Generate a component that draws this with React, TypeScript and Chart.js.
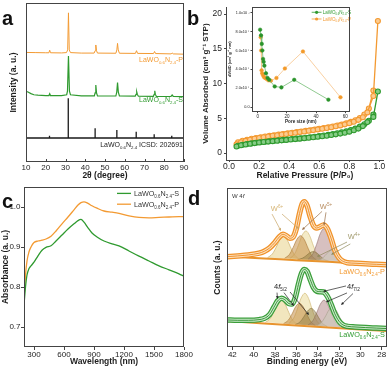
import React, { useEffect, useRef } from 'react';
import { Chart, registerables } from 'chart.js';

Chart.register(...registerables);

const FONT = '"Liberation Sans", Arial, Helvetica, sans-serif';
const ORANGE = '#f39a32';
const GREEN = '#2f9a2f';
const AXIS = '#444444';
const TEXT = '#1e1e1e';

// ---------------- Panel a : XRD ----------------
const xrdP: number[][] = [
  [10, 68.9], [15, 68.8], [20, 68.7], [21.6, 68.7], [22.0, 70.3], [22.4, 68.7], [28, 68.6], [30.5, 68.8],
  [31.1, 70.5], [31.5, 93.8], [31.9, 70.5], [32.5, 68.8], [38, 68.5], [44.5, 68.5], [45.0, 70.0], [45.35, 73.6],
  [45.7, 70.0], [46.2, 68.5], [55.5, 68.4], [56.0, 70.5], [56.35, 74.6], [56.7, 70.5], [57.3, 68.4], [65.4, 68.3],
  [65.95, 70.0], [66.5, 68.3], [74.6, 68.2], [75.1, 69.5], [75.6, 68.2], [83.5, 68.0], [84.0, 68.6], [84.5, 68.0], [90, 67.8],
];
const xrdS: number[][] = [
  [10, 44.5], [11, 44.0], [12.5, 43.0], [14, 42.3], [16, 42.0], [20, 41.8], [21.6, 41.8], [22, 42.9], [22.4, 41.8],
  [28, 41.7], [30.6, 42.3], [31.0, 44.5], [31.5, 66.7], [32.0, 44.5], [32.5, 42.3], [38, 41.6], [44.6, 41.6],
  [45.0, 43.5], [45.35, 48.4], [45.7, 43.5], [46.2, 41.6], [55.5, 41.5], [55.95, 44.0], [56.35, 49.9], [56.75, 44.0],
  [57.3, 41.5], [65.3, 41.4], [65.7, 42.5], [66.05, 44.2], [66.4, 42.5], [66.9, 41.4], [74.5, 41.3], [74.9, 42.5],
  [75.2, 44.8], [75.5, 42.5], [76, 41.3], [83.4, 41.2], [84, 42.1], [84.6, 41.2], [90, 41.1],
];
const icsdPos = [21.9, 31.4, 45.0, 56.0, 65.8, 74.9, 83.8];
const icsdTop = [16.5, 40.1, 21.2, 20.1, 19.1, 17.4, 16.5];
const icsdBase = 15.1;
const xrdTicks = [10, 20, 30, 40, 50, 60, 70, 80, 90];

// ---------------- Panel b : isotherms ----------------
const pAds = [0.05, 0.08, 0.11, 0.14, 0.17, 0.20, 0.23, 0.26, 0.29, 0.32, 0.35, 0.38, 0.41, 0.44, 0.47, 0.50,
  0.53, 0.56, 0.59, 0.62, 0.65, 0.68, 0.71, 0.74, 0.77, 0.80, 0.83, 0.86, 0.89, 0.92, 0.96, 0.99];
const pDes = [0.96, 0.93, 0.90, 0.87, 0.84, 0.81, 0.78, 0.75, 0.72, 0.69, 0.66, 0.63, 0.60, 0.57, 0.54, 0.51,
  0.48, 0.45, 0.42, 0.39, 0.36, 0.33, 0.30, 0.27, 0.24, 0.21, 0.18, 0.15, 0.12, 0.09, 0.06];
const greenAds = [0.95, 1.12, 1.24, 1.34, 1.43, 1.51, 1.58, 1.65, 1.71, 1.77, 1.83, 1.89, 1.95, 2.01, 2.07, 2.13,
  2.20, 2.27, 2.34, 2.42, 2.50, 2.59, 2.69, 2.80, 2.93, 3.08, 3.27, 3.52, 3.88, 4.45, 5.20, 8.85];
const greenDes = [5.55, 4.65, 4.15, 3.80, 3.52, 3.30, 3.12, 2.97, 2.84, 2.72, 2.62, 2.52, 2.43, 2.35, 2.27, 2.20,
  2.13, 2.07, 2.01, 1.95, 1.89, 1.83, 1.77, 1.70, 1.63, 1.56, 1.48, 1.39, 1.29, 1.18, 1.04];
const orangeAds = [1.25, 1.55, 1.75, 1.92, 2.05, 2.17, 2.28, 2.38, 2.48, 2.57, 2.66, 2.75, 2.84, 2.93, 3.02, 3.11,
  3.20, 3.30, 3.40, 3.50, 3.61, 3.72, 3.85, 3.98, 4.13, 4.30, 4.50, 4.78, 5.15, 5.85, 8.20, 19.0];
const orangeDes = [9.0, 6.40, 5.55, 5.05, 4.72, 4.48, 4.28, 4.11, 3.96, 3.83, 3.71, 3.60, 3.49, 3.39, 3.29, 3.19,
  3.10, 3.01, 2.92, 2.83, 2.74, 2.65, 2.56, 2.47, 2.38, 2.28, 2.17, 2.05, 1.92, 1.76, 1.55];
const bXTicks = [0, 0.2, 0.4, 0.6, 0.8, 1.0];
const bYTicks = [0, 5, 10, 15, 20];

// inset: pore size distribution
const poreS = [1.6, 2.2, 2.7, 3.1, 3.6, 4.0, 4.5, 5.6, 6.7, 7.8, 11.6, 16.2, 25.0, 48.5];
const dvS = [8.2e-4, 7.6e-4, 6.7e-4, 6.0e-4, 5.1e-4, 4.8e-4, 4.4e-4, 3.6e-4, 3.1e-4, 2.9e-4, 2.2e-4, 2.1e-4, 2.9e-4, 0.8e-4];
const poreP = [2.0, 2.3, 2.6, 3.0, 3.5, 4.2, 5.0, 6.0, 7.2, 9.0, 12.8, 18.6, 31.0, 56.8];
const dvP = [7.4e-4, 6.0e-4, 3.9e-4, 3.6e-4, 3.4e-4, 3.2e-4, 3.1e-4, 3.0e-4, 2.85e-4, 2.8e-4, 3.1e-4, 4.1e-4, 5.9e-4, 1.05e-4];
const insetXTicks = [0, 20, 40, 60];
const insetYTicks = [0, 2e-4, 4e-4, 6e-4, 8e-4, 1e-3];
const insetYLabels = ['0.0', '2.0x10⁻⁴', '4.0x10⁻⁴', '6.0x10⁻⁴', '8.0x10⁻⁴', '1.0x10⁻³'];

// ---------------- Panel c : absorbance ----------------
const wavelengths = [200, 215, 230, 250, 270, 300, 340, 380, 420, 470, 520, 580, 640, 700, 740, 770, 800, 840,
  880, 930, 1000, 1080, 1150, 1250, 1350, 1450, 1550, 1650, 1750, 1800];
const absS = [0.755, 0.80, 0.83, 0.846, 0.853, 0.862, 0.878, 0.892, 0.899, 0.903, 0.915, 0.93, 0.945, 0.958, 0.966,
  0.969, 0.962, 0.948, 0.935, 0.925, 0.915, 0.908, 0.903, 0.89, 0.877, 0.865, 0.853, 0.843, 0.833, 0.827];
const absP = [0.77, 0.83, 0.865, 0.888, 0.90, 0.911, 0.915, 0.917, 0.92, 0.927, 0.94, 0.958, 0.975, 0.993, 1.005,
  1.011, 1.013, 1.009, 1.003, 0.997, 0.99, 0.987, 0.984, 0.978, 0.974, 0.973, 0.974, 0.975, 0.976, 0.976];
const cXTicks = [300, 600, 900, 1200, 1500, 1800];
const cYTicks = [0.7, 0.8, 0.9, 1.0];

// ---------------- Panel d : XPS W 4f ----------------
const dEnvP: number[][] = [
  [42.5, 56.8], [41.5, 57.3], [40.5, 57.9], [39.5, 59.0], [39.0, 60.2], [38.5, 62.3], [38.0, 65.8], [37.6, 69.2],
  [37.25, 70.9], [36.9, 69.8], [36.6, 68.4], [36.3, 69.2], [36.0, 74.5], [35.7, 84.0], [35.45, 90.0], [35.25, 91.4],
  [35.0, 89.0], [34.7, 82.0], [34.4, 76.5], [34.1, 74.8], [33.8, 75.6], [33.45, 76.8], [33.1, 74.5], [32.75, 68.5],
  [32.4, 61.0], [32.0, 56.0], [31.6, 53.8], [31.2, 53.0], [30.5, 52.7], [29.5, 52.3], [28.5, 52.0], [27.5, 51.7],
];
const dEnvS: number[][] = [
  [42.5, 17.0], [41.5, 16.8], [40.5, 16.8], [39.5, 17.2], [39.0, 18.0], [38.5, 20.5], [38.1, 25.0], [37.75, 29.0],
  [37.4, 30.6], [37.05, 29.6], [36.7, 27.3], [36.4, 27.0], [36.1, 31.0], [35.8, 39.5], [35.5, 46.5], [35.25, 48.8],
  [35.0, 47.6], [34.7, 42.5], [34.4, 37.5], [34.1, 35.2], [33.8, 34.8], [33.45, 34.6], [33.1, 32.0], [32.75, 27.0],
  [32.4, 21.0], [32.0, 16.2], [31.6, 13.8], [31.2, 13.0], [30.5, 12.6], [29.5, 12.2], [28.5, 11.9], [27.5, 11.6],
];
const dBgP: number[][] = [[42.5, 57.0], [39, 55.7], [36, 54.6], [33, 53.6], [30, 52.5], [27.5, 51.6]];
const dBgS: number[][] = [[42.5, 16.3], [39, 14.83], [36, 13.57], [33, 12.31], [30, 11.05], [27.5, 10.0]];
// fitted components (P)
const dP1 = [[38.7, 56.2], [38.25, 58.5], [37.9, 62.6], [37.55, 67.4], [37.2, 69.5], [36.85, 67.2], [36.5, 62.1], [36.15, 57.8], [35.7, 55.1]];
const dP2 = [[36.6, 55.7], [36.15, 58.7], [35.8, 64.1], [35.45, 70.3], [35.1, 73.0], [34.75, 70.0], [34.4, 63.6], [34.05, 58.0], [33.6, 54.6]];
const dP3 = [[37.1, 55.8], [36.65, 58.2], [36.3, 62.6], [35.95, 67.7], [35.6, 70.0], [35.25, 67.5], [34.9, 62.1], [34.55, 57.4], [34.1, 54.7]];
const dP4 = [[34.9, 55.2], [34.45, 58.6], [34.1, 64.5], [33.75, 71.4], [33.4, 74.5], [33.05, 71.2], [32.7, 64.0], [32.35, 57.9], [31.9, 54.1]];
const dP5 = [[35.9, 54.9], [35.45, 55.8], [35.1, 57.3], [34.75, 59.2], [34.4, 60.0], [34.05, 59.0], [33.7, 56.8], [33.35, 55.0], [32.9, 53.9]];
const dP6 = [[34.1, 54.3], [33.65, 55.4], [33.3, 57.5], [32.95, 60.0], [32.6, 61.0], [32.25, 59.8], [31.9, 57.0], [31.55, 54.7], [31.1, 53.2]];
// fitted components (S)
const dS1 = [[38.9, 15.5], [38.45, 17.9], [38.1, 22.2], [37.75, 27.2], [37.4, 29.5], [37.05, 26.9], [36.7, 21.6], [36.35, 17.0], [35.9, 14.2]];
const dS2 = [[36.7, 14.8], [36.25, 18.1], [35.9, 23.9], [35.55, 30.8], [35.2, 33.8], [34.85, 30.5], [34.5, 23.3], [34.15, 17.2], [33.7, 13.5]];
const dS3 = [[37.2, 14.7], [36.75, 16.9], [36.4, 20.8], [36.05, 25.5], [35.7, 27.5], [35.35, 25.2], [35.0, 20.3], [34.65, 16.0], [34.2, 13.4]];
const dS4 = [[34.9, 13.8], [34.45, 16.6], [34.1, 21.4], [33.75, 26.9], [33.4, 29.5], [33.05, 26.6], [32.7, 20.8], [32.35, 15.7], [31.9, 12.5]];
const dS5 = [[36.1, 14.1], [35.65, 15.8], [35.3, 19.0], [34.95, 22.6], [34.6, 24.3], [34.25, 22.3], [33.9, 18.4], [33.55, 14.9], [33.1, 12.9]];
const dS6 = [[34.1, 13.4], [33.65, 15.4], [33.3, 18.9], [32.95, 23.2], [32.6, 25.0], [32.25, 22.9], [31.9, 18.4], [31.55, 14.5], [31.1, 12.1]];
const dXTicks = [42, 40, 38, 36, 34, 32, 30, 28];

// component styles: yellow, yellow, brown, mauve, olive, grey
const compFill = ['rgba(234,214,150,0.62)', 'rgba(238,222,165,0.62)', 'rgba(196,142,70,0.55)', 'rgba(188,150,150,0.6)', 'rgba(140,120,60,0.45)', 'rgba(206,200,186,0.7)'];
const compLine = ['rgba(200,170,95,0.9)', 'rgba(205,180,110,0.9)', 'rgba(170,120,55,0.9)', 'rgba(150,115,112,0.9)', 'rgba(130,110,55,0.8)', 'rgba(168,160,140,0.9)'];

// ---------------- helpers ----------------
const tup = (arr: number[][]) => arr.map(([x, y]) => ({ x, y }));
const pts = (xs: number[], ys: number[]) => xs.map((x, i) => ({ x, y: ys[i] }));
const formula = (suffix: string): any[] => [['LaWO', 0], ['0.6', 1], ['N', 0], ['2.4', 1], [suffix, 0]];

function drawRich(ctx: any, parts: any[], x: number, y: number, size: number, color: string, align = 'left', weight = '') {
  ctx.save();
  ctx.fillStyle = color;
  ctx.textBaseline = 'alphabetic';
  ctx.textAlign = 'left';
  const font = (p: any) => [p[2] ? 'italic' : '', weight, `${p[1] ? size * 0.62 : size}px`, FONT].filter(Boolean).join(' ');
  let w = 0;
  for (const p of parts) { ctx.font = font(p); w += ctx.measureText(p[0]).width; }
  let cx = align === 'right' ? x - w : align === 'center' ? x - w / 2 : x;
  for (const p of parts) {
    ctx.font = font(p);
    const dy = p[1] === 1 ? size * 0.28 : p[1] === 2 ? -size * 0.4 : 0;
    ctx.fillText(p[0], cx, y + dy);
    cx += ctx.measureText(p[0]).width;
  }
  ctx.restore();
}

function drawArrow(ctx: any, x1: number, y1: number, x2: number, y2: number, color: string) {
  const a = Math.atan2(y2 - y1, x2 - x1);
  const h = 3.2;
  ctx.save();
  ctx.strokeStyle = color; ctx.fillStyle = color; ctx.lineWidth = 0.7;
  ctx.beginPath(); ctx.moveTo(x1, y1); ctx.lineTo(x2 - Math.cos(a) * h * 0.8, y2 - Math.sin(a) * h * 0.8); ctx.stroke();
  ctx.beginPath();
  ctx.moveTo(x2, y2);
  ctx.lineTo(x2 - h * Math.cos(a - 0.45), y2 - h * Math.sin(a - 0.45));
  ctx.lineTo(x2 - h * Math.cos(a + 0.45), y2 - h * Math.sin(a + 0.45));
  ctx.closePath(); ctx.fill();
  ctx.restore();
}

function baseOptions(padding: any) {
  return {
    animation: false, responsive: false, maintainAspectRatio: false, devicePixelRatio: 1, events: [],
    layout: { padding },
    plugins: { legend: { display: false }, tooltip: { enabled: false } },
  };
}

function mkAxis(c: any) {
  const {
    min, max, tickVals, horizontal, size, showLabels = true, fmt = (v: number) => String(v), tickLen = 0, pad = 0,
    title = '', titleSize = 8.5, titlePad = { top: 0, bottom: 0 }, reverse = false, border = false, fontSize = 8,
  } = c;
  return {
    type: 'linear', min, max, reverse,
    afterBuildTicks: (ax: any) => { ax.ticks = tickVals.map((v: number) => ({ value: v })); },
    afterFit: (ax: any) => { if (horizontal) ax.height = size; else ax.width = size; },
    grid: { display: tickLen > 0, drawOnChartArea: false, drawTicks: tickLen > 0, tickLength: tickLen, color: AXIS, lineWidth: 1 },
    border: { display: border, color: AXIS, width: 1 },
    ticks: { display: showLabels, font: { family: FONT, size: fontSize }, color: TEXT, padding: pad, autoSkip: false, maxRotation: 0, callback: (v: number, i: number) => fmt(v, i) },
    title: { display: !!title, text: title, color: TEXT, font: { family: FONT, size: titleSize, weight: 'bold' }, padding: titlePad },
  };
}

const framePlugin = {
  id: 'frameBox',
  afterDraw(chart: any) {
    const { ctx, chartArea: { left, top, right, bottom } } = chart;
    ctx.save();
    ctx.strokeStyle = AXIS; ctx.lineWidth = 1;
    ctx.strokeRect(Math.round(left) + 0.5, Math.round(top) + 0.5, Math.round(right - left) - 1, Math.round(bottom - top) - 1);
    ctx.restore();
  },
};

const whiteArea = {
  id: 'whiteArea',
  beforeDraw(chart: any) {
    const { ctx, chartArea: { left, top, right, bottom } } = chart;
    ctx.save(); ctx.fillStyle = '#ffffff'; ctx.fillRect(left, top, right - left, bottom - top); ctx.restore();
  },
};

// ---------------- chart builders ----------------
function icsdLine() {
  const out = [{ x: 10, y: icsdBase }];
  icsdPos.forEach((p, i) => { out.push({ x: p, y: icsdBase }, { x: p, y: icsdTop[i] }, { x: p, y: icsdBase }); });
  out.push({ x: 90, y: icsdBase });
  return out;
}

function buildA() {
  const labels = {
    id: 'labelsA',
    afterDatasetsDraw(chart: any) {
      const { ctx } = chart; const sx = chart.scales.x, sy = chart.scales.y;
      const xr = sx.getPixelForValue(89.5);
      drawRich(ctx, formula('-P'), xr, sy.getPixelForValue(62.9), 7, ORANGE, 'right');
      drawRich(ctx, formula('-S'), xr, sy.getPixelForValue(37.9), 7, GREEN, 'right');
      drawRich(ctx, formula(' ICSD: 202691'), xr, sy.getPixelForValue(9.6), 7, '#222', 'right');
      ctx.save(); ctx.strokeStyle = AXIS; ctx.lineWidth = 1; ctx.beginPath();
      for (const v of xrdTicks) {
        const px = Math.round(sx.getPixelForValue(v)) + 0.5;
        ctx.moveTo(px, chart.chartArea.bottom); ctx.lineTo(px, chart.chartArea.bottom - 3);
      }
      ctx.stroke(); ctx.restore();
    },
  };
  return {
    type: 'line',
    data: {
      datasets: [
        { data: tup(xrdP), borderColor: ORANGE, borderWidth: 1, pointRadius: 0, tension: 0 },
        { data: tup(xrdS), borderColor: GREEN, borderWidth: 1.2, pointRadius: 0, tension: 0 },
        { data: icsdLine(), borderColor: '#1a1a1a', borderWidth: 1.3, pointRadius: 0, tension: 0 },
      ],
    },
    options: {
      ...baseOptions({ top: 3, right: 10, left: 0, bottom: 0 }),
      scales: {
        x: mkAxis({ min: 10, max: 90, tickVals: xrdTicks, horizontal: true, size: 23, pad: 0.5, title: '2θ (degree)', titlePad: { top: 0, bottom: 4.6 } }),
        y: mkAxis({ min: 0, max: 100, tickVals: [], horizontal: false, size: 26, showLabels: false, title: 'Intensity (a. u.)', titlePad: { top: 8.9, bottom: 0 } }),
      },
    },
    plugins: [framePlugin, labels],
  };
}

function buildB() {
  const mk = (xs: number[], ys: number[], line: string, fill: string) => ({
    data: pts(xs, ys), borderColor: line, borderWidth: 1.3, pointRadius: 2.5, pointBorderWidth: 1.1,
    pointBorderColor: line, pointBackgroundColor: fill, tension: 0,
  });
  return {
    type: 'line',
    data: {
      datasets: [
        mk(pAds, greenAds, GREEN, '#86cc86'), mk(pDes, greenDes, GREEN, '#86cc86'),
        mk(pAds, orangeAds, ORANGE, '#fccb90'), mk(pDes, orangeDes, ORANGE, '#fccb90'),
      ],
    },
    options: {
      ...baseOptions({ top: 2, right: 2, left: 0, bottom: 0 }),
      scales: {
        x: mkAxis({ min: -0.02, max: 1.03, tickVals: bXTicks, horizontal: true, size: 25, tickLen: 2, pad: 0, border: true, fontSize: 8.5, fmt: (v: number) => v.toFixed(1), title: 'Relative Pressure (P/P₀)', titlePad: { top: 0, bottom: 4.2 } }),
        y: mkAxis({ min: -1, max: 21, tickVals: bYTicks, horizontal: false, size: 32, tickLen: 2, pad: 2, border: true, fontSize: 8.5, title: 'Volume Absorbed (cm³ g⁻¹ STP)', titleSize: 8, titlePad: { top: 6.9, bottom: 0 } }),
      },
    },
  };
}

function buildInset() {
  const legend = {
    id: 'insetLegend',
    afterDatasetsDraw(chart: any) {
      const { ctx } = chart; const sx = chart.scales.x, sy = chart.scales.y;
      const entries = [{ s: '-S', c: GREEN, y: 1.004e-3 }, { s: '-P', c: ORANGE, y: 0.933e-3 }];
      for (const e of entries) {
        const y = sy.getPixelForValue(e.y);
        const x1 = sx.getPixelForValue(37), x2 = sx.getPixelForValue(43.8);
        ctx.save(); ctx.strokeStyle = e.c; ctx.fillStyle = e.c; ctx.lineWidth = 0.8;
        ctx.beginPath(); ctx.moveTo(x1, y); ctx.lineTo(x2, y); ctx.stroke();
        ctx.beginPath(); ctx.arc((x1 + x2) / 2, y, 1.6, 0, Math.PI * 2); ctx.fill(); ctx.restore();
        drawRich(ctx, formula(e.s), sx.getPixelForValue(44.6), y + 1.6, 4.5, e.c, 'left');
      }
    },
  };
  const mk = (xs: number[], ys: number[], point: string, line: string) => ({
    data: pts(xs, ys), borderColor: line, borderWidth: 0.8, pointRadius: 1.8, pointBorderWidth: 0.5,
    pointBorderColor: point, pointBackgroundColor: point, tension: 0,
  });
  return {
    type: 'line',
    data: { datasets: [mk(poreS, dvS, '#2a932a', '#74bd74'), mk(poreP, dvP, '#f39a2a', '#f8c48a')] },
    options: {
      ...baseOptions({ top: 4.7, right: 4, left: 0, bottom: 0 }),
      scales: {
        x: mkAxis({ min: -4, max: 63, tickVals: insetXTicks, horizontal: true, size: 16.3, tickLen: 1.5, pad: 1.2, fontSize: 4.5, title: 'Pore size (nm)', titleSize: 4.6, titlePad: { top: 0, bottom: 3.4 } }),
        y: mkAxis({ min: -4.7e-5, max: 1.063e-3, tickVals: insetYTicks, horizontal: false, size: 26, tickLen: 1.5, pad: 1, fontSize: 3.8, fmt: (v: number, i: number) => insetYLabels[i], title: 'dV/dD (cm³ g⁻¹ nm)', titleSize: 4, titlePad: { top: 1.4, bottom: 0 } }),
      },
    },
    plugins: [whiteArea, framePlugin, legend],
  };
}

function buildC() {
  const legend = {
    id: 'cLegend',
    afterDatasetsDraw(chart: any) {
      const { ctx } = chart; const sx = chart.scales.x, sy = chart.scales.y;
      const entries = [{ s: '-S', c: GREEN, y: 1.034 }, { s: '-P', c: ORANGE, y: 1.007 }];
      for (const e of entries) {
        const y = sy.getPixelForValue(e.y);
        ctx.save(); ctx.strokeStyle = e.c; ctx.lineWidth = 1.3;
        ctx.beginPath(); ctx.moveTo(sx.getPixelForValue(1130), y); ctx.lineTo(sx.getPixelForValue(1270), y); ctx.stroke(); ctx.restore();
        drawRich(ctx, formula(e.s), sx.getPixelForValue(1300), y + 2.6, 7.2, '#333', 'left');
      }
    },
  };
  return {
    type: 'line',
    data: {
      datasets: [
        { data: pts(wavelengths, absS), borderColor: GREEN, borderWidth: 1.3, pointRadius: 0, cubicInterpolationMode: 'monotone' },
        { data: pts(wavelengths, absP), borderColor: ORANGE, borderWidth: 1.3, pointRadius: 0, cubicInterpolationMode: 'monotone' },
      ],
    },
    options: {
      ...baseOptions({ top: 7, right: 10, left: 0, bottom: 0 }),
      scales: {
        x: mkAxis({ min: 200, max: 1800, tickVals: cXTicks, horizontal: true, size: 21, tickLen: 3, pad: 0, title: 'Wavelength (nm)', titlePad: { top: 0, bottom: 1.2 } }),
        y: mkAxis({ min: 0.65, max: 1.05, tickVals: cYTicks, horizontal: false, size: 24, tickLen: 3, pad: 0.5, fmt: (v: number) => v.toFixed(1), title: 'Absorbance (a. u.)', titlePad: { top: 0.9, bottom: 0 } }),
      },
    },
    plugins: [framePlugin, legend],
  };
}

function buildD() {
  const comps = (list: number[][][]) => list.map((c, i) => ({
    data: tup(c), borderColor: compLine[i], backgroundColor: compFill[i], borderWidth: 0.7, pointRadius: 0,
    fill: 'shape', cubicInterpolationMode: 'monotone', order: 20 - i,
  }));
  const ribbon = (env: number[][], outer: string, inner: string, core: string) => [
    { data: tup(env), borderColor: outer, borderWidth: 5.5, pointRadius: 0, cubicInterpolationMode: 'monotone', fill: false, order: 3 },
    { data: tup(env), borderColor: inner, borderWidth: 3, pointRadius: 0, cubicInterpolationMode: 'monotone', fill: false, order: 2 },
    { data: tup(env), borderColor: core, borderWidth: 0.9, pointRadius: 0, cubicInterpolationMode: 'monotone', fill: false, order: 1 },
  ];
  const bg = (b: number[][]) => ({ data: tup(b), borderColor: '#e8942e', borderWidth: 2, pointRadius: 0, tension: 0.3, fill: false, order: 5 });
  const notes = {
    id: 'dNotes',
    afterDatasetsDraw(chart: any) {
      const { ctx } = chart; const sx = chart.scales.x, sy = chart.scales.y;
      const X = (v: number) => sx.getPixelForValue(v), Y = (v: number) => sy.getPixelForValue(v);
      drawRich(ctx, [['W 4', 0], ['f', 0, true]], X(42.03), Y(93.7), 6, '#333', 'left');
      drawRich(ctx, [['W', 0], ['6+', 2]], X(37.81), Y(85.5), 7.5, '#d6b575', 'center');
      drawRich(ctx, [['W', 0], ['5+', 2]], X(33.22), Y(86.8), 7.5, '#b98e62', 'center');
      drawRich(ctx, [['W', 0], ['4+', 2]], X(30.6), Y(67.9), 7.5, '#a39c70', 'center');
      const pArrows = [
        [38.28, 83.6, 37.44, 73.0, '#c9a565'], [37.34, 83.6, 35.75, 74.2, '#c9a565'],
        [33.59, 85.3, 35.47, 73.6, '#9a7048'], [33.22, 84.7, 33.41, 76.4, '#9a7048'],
        [31.25, 66.0, 34.06, 56.8, '#8f8a5c'], [30.94, 64.8, 32.75, 58.0, '#8f8a5c'],
      ];
      for (const a of pArrows) drawArrow(ctx, X(a[0] as number), Y(a[1] as number), X(a[2] as number), Y(a[3] as number), a[4] as string);
      drawRich(ctx, [['4', 0], ['f', 0, true], ['5/2', 1]], X(38.09), Y(36.5), 7.5, '#222', 'left');
      drawRich(ctx, [['4', 0], ['f', 0, true], ['7/2', 1]], X(31.25), Y(36.5), 7.5, '#222', 'left');
      const sArrows = [
        [37.81, 34.2, 37.77, 30.2], [37.16, 34.2, 36.22, 25.8], [36.59, 34.6, 34.81, 20.1],
        [31.34, 38.4, 33.5, 34.9], [31.25, 34.0, 33.22, 28.3], [30.69, 33.6, 31.81, 26.4],
      ];
      for (const a of sArrows) drawArrow(ctx, X(a[0]), Y(a[1]), X(a[2]), Y(a[3]), '#222');
      drawRich(ctx, formula('-P'), X(27.69), Y(45.9), 7.3, ORANGE, 'right');
      drawRich(ctx, formula('-S'), X(27.69), Y(6.5), 7.3, GREEN, 'right');
    },
  };
  return {
    type: 'line',
    data: {
      datasets: [
        ...comps([dP1, dP2, dP3, dP4, dP5, dP6]),
        ...comps([dS1, dS2, dS3, dS4, dS5, dS6]),
        bg(dBgP), bg(dBgS),
        ...ribbon(dEnvP, '#f0922a', '#fde0bd', '#ec8a20'),
        ...ribbon(dEnvS, '#3a9e3a', '#cdebcd', '#2a8a2a'),
      ],
    },
    options: {
      ...baseOptions({ top: 8, right: 2, left: 0, bottom: 0 }),
      scales: {
        x: mkAxis({ min: 27.5, max: 42.5, reverse: true, tickVals: dXTicks, horizontal: true, size: 21, tickLen: 3, pad: 0, title: 'Binding energy (eV)', titlePad: { top: 0, bottom: 1.2 } }),
        y: mkAxis({ min: 0, max: 100, tickVals: [], horizontal: false, size: 33, showLabels: false, title: 'Counts (a. u.)', titlePad: { top: 18.2, bottom: 0 } }),
      },
    },
    plugins: [framePlugin, notes],
  };
}

function Panel({ left, top, width, height, build }: any) {
  const ref = useRef<HTMLCanvasElement>(null);
  useEffect(() => {
    const chart = new Chart(ref.current as any, build());
    return () => chart.destroy();
  }, []);
  return <canvas ref={ref} width={width} height={height} style={{ position: 'absolute', left, top, width, height }} />;
}

const letterStyle: any = { position: 'absolute', fontFamily: FONT, fontWeight: 'bold', fontSize: 20, lineHeight: '20px', color: '#111' };

export default function App() {
  return (
    <div style={{ position: 'absolute', left: 0, top: 0, width: 389, height: 368, background: '#ffffff', overflow: 'hidden' }}>
      <Panel left={0} top={0} width={194} height={185} build={buildA} />
      <Panel left={194} top={0} width={195} height={185} build={buildB} />
      <Panel left={226} top={2} width={128} height={126} build={buildInset} />
      <Panel left={0} top={180} width={194} height={188} build={buildC} />
      <Panel left={194} top={180} width={195} height={188} build={buildD} />
      <div style={{ ...letterStyle, left: 2, top: 8 }}>a</div>
      <div style={{ ...letterStyle, left: 187, top: 8 }}>b</div>
      <div style={{ ...letterStyle, left: 2, top: 191 }}>c</div>
      <div style={{ ...letterStyle, left: 188, top: 188 }}>d</div>
    </div>
  );
}
